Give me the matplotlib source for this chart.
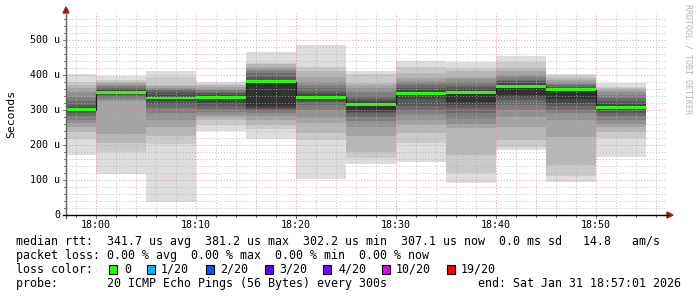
import matplotlib
matplotlib.use('Agg')
import matplotlib.pyplot as plt
from matplotlib.patches import Rectangle, Polygon
from matplotlib.lines import Line2D

# ---------------- data ----------------
step_starts = ["17:55", "18:00", "18:05", "18:10", "18:15", "18:20",
               "18:25", "18:30", "18:35", "18:40", "18:45", "18:50"]
step_len_min = 5
median_us = [301, 351, 334, 336, 381, 336, 316, 348, 351, 368, 358, 307]

pings_1755 = [172, 218, 238, 252, 262, 272, 283, 292, 296, 300, 303, 308, 315, 325, 338, 350, 362, 372, 380, 403]
pings_1800 = [118, 180, 205, 231, 325, 332, 338, 343, 347, 350, 352, 356, 360, 364, 368, 372, 376, 381, 385, 398]
pings_1805 = [37, 203, 225, 252, 270, 290, 305, 318, 326, 332, 336, 342, 350, 356, 360, 364, 368, 372, 395, 412]
pings_1810 = [241, 258, 272, 280, 287, 295, 302, 310, 320, 333, 339, 344, 348, 352, 356, 360, 365, 370, 375, 380]
pings_1815 = [217, 245, 258, 270, 283, 292, 298, 303, 307, 310, 382, 386, 395, 405, 412, 418, 424, 430, 434, 465]
pings_1820 = [103, 214, 235, 262, 278, 300, 314, 322, 326, 330, 340, 345, 352, 362, 372, 381, 395, 410, 422, 485]
pings_1825 = [145, 162, 180, 225, 252, 268, 281, 290, 295, 300, 318, 325, 332, 340, 350, 362, 370, 376, 403, 410]
pings_1830 = [152, 205, 235, 258, 272, 288, 300, 312, 330, 340, 352, 358, 362, 370, 377, 383, 392, 405, 424, 440]
pings_1835 = [92, 119, 170, 248, 260, 275, 290, 305, 315, 322, 355, 360, 365, 372, 380, 388, 395, 410, 420, 436]
pings_1840 = [185, 195, 214, 252, 279, 300, 315, 329, 336, 343, 370, 376, 382, 387, 393, 400, 410, 419, 438, 454]
pings_1845 = [93, 110, 143, 222, 271, 290, 300, 310, 320, 330, 358, 362, 366, 370, 375, 381, 386, 392, 397, 404]
pings_1850 = [167, 219, 238, 250, 259, 270, 282, 292, 300, 305, 310, 318, 326, 334, 342, 350, 357, 362, 367, 378]
pings = [pings_1755, pings_1800, pings_1805, pings_1810, pings_1815, pings_1820,
         pings_1825, pings_1830, pings_1835, pings_1840, pings_1845, pings_1850]

x_start, x_end = "17:57", "18:57"
y_max_us = 577
x_tick_labels = ["18:00", "18:10", "18:20", "18:30", "18:40", "18:50"]
y_tick_values = [0, 100, 200, 300, 400, 500]
y_tick_labels = ["0", "100 u", "200 u", "300 u", "400 u", "500 u"]

legend_rtt = "median rtt:  341.7 us avg  381.2 us max  302.2 us min  307.1 us now  0.0 ms sd   14.8   am/s"
legend_loss = "packet loss: 0.00 % avg  0.00 % max  0.00 % min  0.00 % now"
loss_labels = ["0", "1/20", "2/20", "3/20", "4/20", "10/20", "19/20"]
loss_colors = ["#26ff00", "#00b8ff", "#0059ff", "#5e00ff", "#7e00ff", "#dd00ff", "#ff0000"]
probe_text = "probe:       20 ICMP Echo Pings (56 Bytes) every 300s"
end_text = "end: Sat Jan 31 18:57:01 2026"

# ---------------- helpers ----------------
def tmin(s):
    h, m = s.split(":")
    return int(h) * 60 + int(m)

W, H = 697, 297
fig = plt.figure(figsize=(W / 100, H / 100), dpi=100)
fig.patch.set_facecolor("white")
L, R, T, B = 66, 666, 13, 215
ax = fig.add_axes([L / W, 1 - B / H, (R - L) / W, (B - T) / H])
ax.set_facecolor("white")
for s in ax.spines.values():
    s.set_visible(False)

x0, x1 = tmin(x_start), tmin(x_end)
ax.set_xlim(x0, x1)
ax.set_ylim(0, y_max_us)

edges = [tmin(s) for s in step_starts] + [tmin(step_starts[-1]) + step_len_min]

# smoke
n = len(pings[0])
half = n / 2
ibot, itop = 1, n
while itop > ibot:
    c = int(190 / half * (half - ibot)) + 50
    col = "#%02x%02x%02x" % (c, c, c)
    lower = [p[ibot - 1] for p in pings]
    upper = [p[itop - 1] for p in pings]
    ax.stairs(upper, edges, baseline=lower, fill=True, color=col, lw=0,
              zorder=1 + ibot * 0.01, antialiased=False)
    ibot += 1
    itop -= 1

# grid (on top of smoke)
px_per_us = (B - T) / y_max_us
for m in range(x0 + 1, x1 + 1, 2):
    if m % 10 == 0:
        continue
    ax.axvline(m, color="#b0b0b0", lw=0.7, ls=(0, (1, 2)), zorder=2, alpha=0.8)
for v in range(20, y_max_us, 20):
    if v % 100 == 0:
        continue
    ax.axhline(v, color="#b0b0b0", lw=0.7, ls=(0, (1, 2)), zorder=2, alpha=0.8)
for lab in x_tick_labels:
    ax.axvline(tmin(lab), color="#e09090", lw=0.7, ls=(0, (1, 2)), zorder=2.1, alpha=0.9)
for v in y_tick_values[1:]:
    ax.axhline(v, color="#e09090", lw=0.7, ls=(0, (1, 2)), zorder=2.1, alpha=0.9)

# median line + green loss band
ax.stairs(median_us, edges, baseline=None, color="#202020", lw=0.9, zorder=3)
sw = 1.4 / px_per_us
ax.stairs([m + sw for m in median_us], edges, baseline=[m - sw for m in median_us],
          fill=True, color=loss_colors[0], lw=0, zorder=4)

ax.set_xticks([])
ax.set_yticks([])

mono = "DejaVu Sans Mono"

def fx(px):
    return px / W

def fy(py):
    return 1 - py / H

# tick labels
for lab in x_tick_labels:
    xp = L + (tmin(lab) - x0) / (x1 - x0) * (R - L)
    fig.text(fx(xp), fy(225), lab, ha="center", va="center", fontsize=7.2,
             family=mono, color="#000000")
for v, lab in zip(y_tick_values, y_tick_labels):
    yp = B - v * px_per_us
    fig.text(fx(60), fy(yp), lab, ha="right", va="center", fontsize=7.2,
             family=mono, color="#000000")

# small ticks
for m in range(x0 + 1, x1 + 1, 2):
    xp = L + (m - x0) / (x1 - x0) * (R - L)
    ln = 3 if m % 10 == 0 else 2
    fig.add_artist(Line2D([fx(xp), fx(xp)], [fy(B), fy(B + ln)], color="#606060", lw=0.6))
for v in range(0, y_max_us, 20):
    yp = B - v * px_per_us
    ln = 3 if v % 100 == 0 else 2
    fig.add_artist(Line2D([fx(L - ln), fx(L)], [fy(yp), fy(yp)], color="#606060", lw=0.6))

# axes lines with arrows
fig.add_artist(Line2D([fx(L), fx(L)], [fy(B + 3), fy(11)], color="#606060", lw=1.0))
fig.add_artist(Line2D([fx(L - 3), fx(668)], [fy(B), fy(B)], color="#000000", lw=1.0))
fig.add_artist(Polygon([[fx(L), fy(7)], [fx(L - 3), fy(13)], [fx(L + 3), fy(13)]],
                       closed=True, color="#9b1c1c", transform=fig.transFigure))
fig.add_artist(Polygon([[fx(673), fy(B)], [fx(667), fy(B - 3)], [fx(667), fy(B + 3)]],
                       closed=True, color="#9b1c1c", transform=fig.transFigure))

# axis unit label + watermark
fig.text(fx(11), fy(114), "Seconds", rotation=90, ha="center", va="center",
         fontsize=8.2, family=mono, color="#000000")
fig.text(fx(688), fy(4), "RRDTOOL / TOBI OETIKER", rotation=270, ha="center", va="top",
         fontsize=6, family=mono, color="#b4b4b4")

# legend
fs = 8.4
fig.text(fx(16), fy(241.5), legend_rtt, ha="left", va="center", fontsize=fs, family=mono)
fig.text(fx(16), fy(255.5), legend_loss, ha="left", va="center", fontsize=fs, family=mono)
fig.text(fx(16), fy(269.5), "loss color:", ha="left", va="center", fontsize=fs, family=mono)
box_x = [109, 147, 206, 265, 323, 382, 447]
lab_x = [124, 161, 220, 279, 338, 396, 461]
for bx, lx, lab, col in zip(box_x, lab_x, loss_labels, loss_colors):
    fig.add_artist(Rectangle((fx(bx), fy(274)), 8 / W, 9 / H, facecolor=col,
                             edgecolor="#000000", lw=0.8, transform=fig.transFigure))
    fig.text(fx(lx), fy(269.5), lab, ha="left", va="center", fontsize=fs, family=mono)
fig.text(fx(16), fy(283.5), probe_text, ha="left", va="center", fontsize=fs, family=mono)
fig.text(fx(681), fy(283.5), end_text, ha="right", va="center", fontsize=fs, family=mono)

fig.savefig("out.png", dpi=100, facecolor="white")
